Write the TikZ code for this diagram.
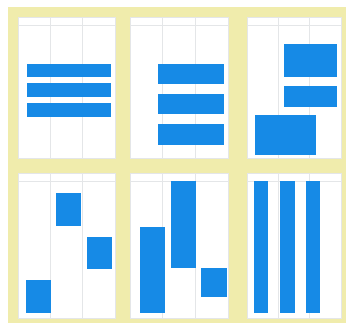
\documentclass[tikz,border=0pt]{standalone}
\definecolor{frameyellow}{RGB}{240,236,172}
\definecolor{barblue}{RGB}{22,138,230}
\definecolor{gridgray}{RGB}{228,230,232}
\tikzset{
  panel/.style={fill=white, draw=gridgray, line width=0.6pt},
  gridline/.style={draw=gridgray, line width=0.5pt},
  bar/.style={fill=barblue, draw=none}
}
\begin{document}
\begin{tikzpicture}[x=1pt,y=-1pt]
\useasboundingbox (0,0) rectangle (349,325);
\fill[white] (0,0) rectangle (349,325);
\fill[frameyellow] (8,7) rectangle (346,323);
% panels
\foreach \xa/\xb in {18/115, 130/228, 247/341}{
  \foreach \ya/\yb in {17/158, 173/318}{
    \filldraw[panel] (\xa,\ya) rectangle (\xb,\yb);
    \pgfmathsetmacro{\xone}{\xa+(\xb-\xa)/3}
    \pgfmathsetmacro{\xtwo}{\xa+2*(\xb-\xa)/3}
    \draw[gridline] (\xone,\ya) -- (\xone,\yb);
    \draw[gridline] (\xtwo,\ya) -- (\xtwo,\yb);
    \draw[gridline] (\xa,\ya+8) -- (\xb,\ya+8);
  }
}
% panel 1
\fill[bar] (27,64) rectangle (111,77);
\fill[bar] (27,83) rectangle (111,97);
\fill[bar] (27,103) rectangle (111,117);
% panel 2
\fill[bar] (158,64) rectangle (224,84);
\fill[bar] (158,94) rectangle (224,114);
\fill[bar] (158,124) rectangle (224,145);
% panel 3
\fill[bar] (284,44) rectangle (337,77);
\fill[bar] (284,86) rectangle (337,107);
\fill[bar] (255,115) rectangle (316,155);
% panel 4
\fill[bar] (56,193) rectangle (81,226);
\fill[bar] (87,237) rectangle (112,269);
\fill[bar] (26,280) rectangle (51,313);
% panel 5
\fill[bar] (140,227) rectangle (165,313);
\fill[bar] (171,181) rectangle (196,268);
\fill[bar] (201,268) rectangle (227,297);
% panel 6
\fill[bar] (254,181) rectangle (268,313);
\fill[bar] (280,181) rectangle (295,313);
\fill[bar] (306,181) rectangle (320,313);
\end{tikzpicture}
\end{document}
